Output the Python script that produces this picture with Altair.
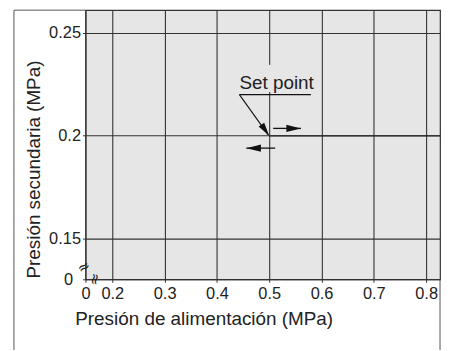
import altair as alt
import pandas as pd

# ---- data ----
x_ticks = [0.2, 0.3, 0.4, 0.5, 0.6, 0.7, 0.8]
y_ticks = [0.15, 0.2, 0.25]
x_min, x_max = 0.1487, 0.8266          # broken axis: left edge labelled "0"
y_min, y_max = 0.1302, 0.2611          # broken axis: bottom edge labelled "0"

curve_x = [0.5, 0.8266]
curve_y = [0.2, 0.2]

label_text = ["Set point"]
label_x = [0.443]
label_y = [0.2229]
underline_x = [0.443, 0.5797]
underline_y = [0.2200, 0.2200]
leader_x = [0.443, 0.4985]
leader_y = [0.2200, 0.2003]
leader_tip = [(0.5, 0.2, 145)]
right_arrow_x = [0.5076, 0.5608]
right_arrow_y = [0.2036, 0.2036]
left_arrow_x = [0.5114, 0.4563]
left_arrow_y = [0.1940, 0.1940]
arrow_tips = [(0.5608, 0.2036, 90), (0.4563, 0.1940, 270)]
gap_x = [0.495, 0.505]
gap_y = [0.2213, 0.2345]

# axis-break symbols: y-axis break near the bottom-left, x-axis break right of it
ybreak = [(x_min, 0.1368)]
xbreak = [(0.1672, y_min)]

BG = "#e6e6e6"
INK = "#222222"
FONT = "Liberation Sans"

xscale = alt.Scale(domain=[x_min, x_max], nice=False, zero=False)
yscale = alt.Scale(domain=[y_min, y_max], nice=False, zero=False)

xaxis = alt.Axis(
    values=[x_min] + x_ticks,
    labelExpr="datum.value < 0.19 ? '0' : format(datum.value, '.1f')",
    title="Presión de alimentación (MPa)",
    titleX=119, titleY=46, titleAlign="center", titleBaseline="alphabetic",
    titleAnchor="start",
    labelPadding=3,
)
yaxis = alt.Axis(
    values=[y_min] + y_ticks,
    labelExpr="datum.value < 0.14 ? '0' : toString(datum.value)",
    title="Presión secundaria (MPa)",
    titleX=-46, titleY=160, titleAngle=270, titleAlign="center",
    titleBaseline="alphabetic", titleAnchor="start",
    labelPadding={"condition": {"test": "datum.value < 0.14", "value": 10}, "value": 2},
)


def X(field="x"):
    return alt.X(f"{field}:Q", scale=xscale, axis=xaxis)


def Y(field="y"):
    return alt.Y(f"{field}:Q", scale=yscale, axis=yaxis)


def line_layer(xs, ys, width=1.2, color="#111"):
    df = pd.DataFrame({"x": xs, "y": ys, "o": list(range(len(xs)))})
    return alt.Chart(df).mark_line(color=color, strokeWidth=width).encode(
        x=X(), y=Y(), order="o:Q"
    )


head_path = "M0,0L0.6,2.4L-0.6,2.4Z"


def heads(rows, size):
    df = pd.DataFrame(rows, columns=["x", "y", "a"])
    return alt.Chart(df).mark_point(
        shape=head_path, filled=True, color="#111", opacity=1, size=size,
        strokeWidth=0,
    ).encode(x=X(), y=Y(), angle=alt.Angle("a:Q", scale=None))


# background patch that hides the 0.5 gridline behind the label
gap = alt.Chart(pd.DataFrame({"x": [gap_x[0]], "x2": [gap_x[1]],
                              "y": [gap_y[0]], "y2": [gap_y[1]]})).mark_rect(
    color=BG).encode(x=X(), x2="x2:Q", y=Y(), y2="y2:Q")

curve = line_layer(curve_x, curve_y, width=1.3, color="#262626")
underline = line_layer(underline_x, underline_y, width=1.1)
leader = line_layer(leader_x, leader_y, width=1.1)
rarrow = line_layer(right_arrow_x, right_arrow_y, width=1.3)
larrow = line_layer(left_arrow_x, left_arrow_y, width=1.3)

label = alt.Chart(pd.DataFrame({"x": label_x, "y": label_y, "t": label_text})).mark_text(
    align="left", baseline="alphabetic", font=FONT, fontSize=19, color=INK
).encode(x=X(), y=Y(), text="t:N")


def break_mark(rows, angle, dx):
    df = pd.DataFrame(rows, columns=["x", "y"])
    df["t"] = "\u2248"
    return alt.Chart(df).mark_text(
        font="DejaVu Sans", fontSize=15, color=INK, baseline="middle",
        align="center", angle=angle, dx=dx,
    ).encode(x=X(), y=Y(), text="t:N")


one = pd.DataFrame({"k": [0]})
frame_left = alt.Chart(one).mark_rule(color="#555", strokeWidth=1).encode(
    x=alt.value(-72), y=alt.value(0), y2=alt.value(345))
frame_top = alt.Chart(one).mark_rule(color="#555", strokeWidth=1).encode(
    x=alt.value(-72), x2=alt.value(0), y=alt.value(0))
frame_right = alt.Chart(one).mark_rule(color="#555", strokeWidth=1).encode(
    x=alt.value(357), y=alt.value(271), y2=alt.value(345))

chart = alt.layer(
    gap, curve, underline, leader, rarrow, larrow,
    heads(leader_tip, 130), heads(arrow_tips, 150),
    label, break_mark(ybreak, 330, -2), break_mark(xbreak, 100, 0),
    frame_left, frame_top, frame_right,
).properties(
    width=357, height=271,
    autosize=alt.AutoSizeParams(type="none"),
    padding={"left": 78, "top": 1, "right": 3, "bottom": 70},
    background="white",
).configure_view(
    fill=BG, stroke="#333", strokeWidth=1.2
).configure_axis(
    domain=False, grid=True, gridColor="#333333", gridWidth=1.1, gridOpacity=1,
    ticks=True, tickSize=3, tickColor="#333",
    labelFont=FONT, labelFontSize=16.5, labelColor=INK,
    titleFont=FONT, titleFontSize=19, titleFontWeight="normal", titleColor=INK,
    labelFlush=False, labelOverlap=False,
)

chart.save("out.html", embed_options={"renderer": "svg", "actions": False})
